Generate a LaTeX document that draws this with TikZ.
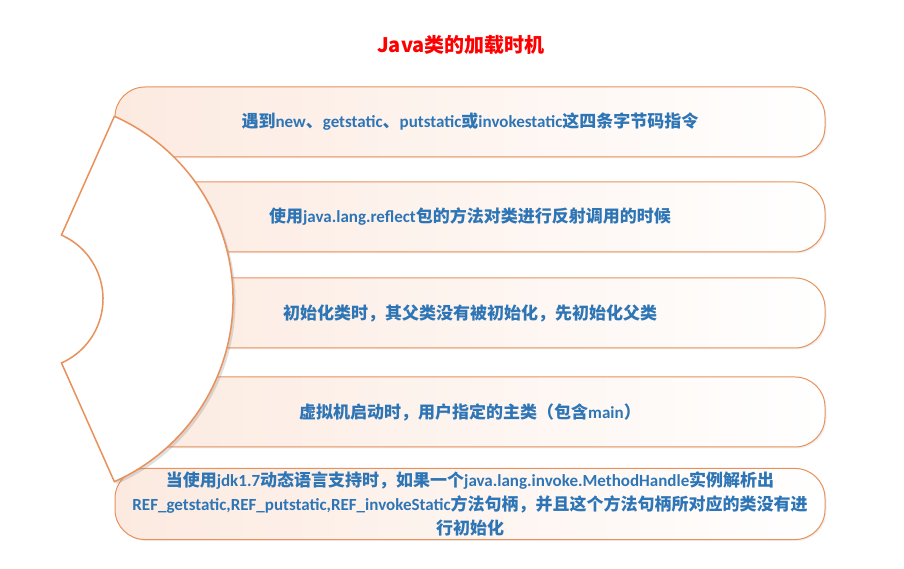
\documentclass[tikz,border=0pt]{standalone}
\usepackage{fontspec}
\setmainfont{Carlito}
\newfontfamily\cjk{Noto Sans CJK SC}
\usetikzlibrary{calc,shadows}

\definecolor{barline}{RGB}{232,145,90}
\definecolor{barfill}{RGB}{252,234,224}
\definecolor{textblue}{RGB}{46,117,182}
\newcommand{\zh}[1]{{\cjk #1}}

\begin{document}
\begin{tikzpicture}[x=1pt,y=1pt,line width=1pt,
  bar/.style={draw=barline,rounded corners=30pt,left color=barfill,right color=white,
    minimum width=710pt,minimum height=70pt,text=textblue,align=center,
    font=\bfseries\fontsize{17}{24}\selectfont,
    drop shadow={opacity=0.12,shadow xshift=1.5pt,shadow yshift=-1.5pt}}]

\useasboundingbox (0,0) rectangle (904,569);

% title
\node[text=red,font=\cjk\bfseries\fontsize{20}{24}\selectfont] (Title) at (461,524) {Java类的加载时机};

% 1
\node[bar] (CaseA) at (470,447) {\zh{遇到}new\zh{、}getstatic\zh{、}putstatic\zh{或}invokestatic\zh{这四条字节码指令}};

% 2
\node[bar] (CaseB) at (470,352) {\zh{使用}java.lang.reflect\zh{包的方法对类进行反射调用的时候}};

% 3
\node[bar] (CaseC) at (470,256) {\zh{初始化类时，其父类没有被初始化，先初始化父类}};

% 4
\node[bar] (CaseD) at (470,157) {\zh{虚拟机启动时，用户指定的主类（包含}main\zh{）}};

% 5
\node[bar] (CaseE) at (470,65) {\zh{当使用}jdk1.7\zh{动态语言支持时，如果一个}java.lang.invoke.MethodHandle\zh{实例解析出}\\
REF\_getstatic,REF\_putstatic,REF\_invokeStatic\zh{方法句柄，并且这个方法句柄所对应的类没有进}\\
\zh{行初始化}};

% fan
\coordinate (FanCenter) at (33,270);
\draw[draw=barline,line width=1.5pt,fill=white,drop shadow={opacity=0.25,shadow xshift=2.5pt,shadow yshift=-2.5pt}]
  ($(FanCenter)+(66:200)$) arc[start angle=66,end angle=-66,radius=200]
  -- ($(FanCenter)+(-66:70)$) arc[start angle=-66,end angle=66,radius=70] -- cycle;

\end{tikzpicture}
\end{document}
